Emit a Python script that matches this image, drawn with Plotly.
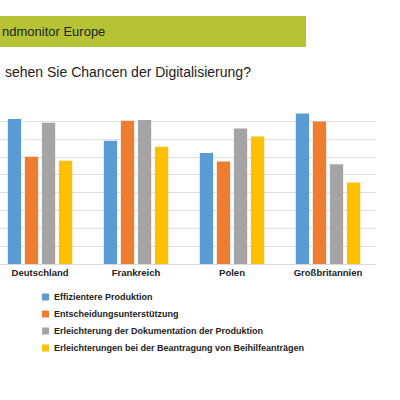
import plotly.graph_objects as go

categories = ["Deutschland", "Frankreich", "Polen", "Großbritannien"]
series_names = ["Effizientere Produktion", "Entscheidungsunterstützung",
                "Erleichterung der Dokumentation der Produktion",
                "Erleichterungen bei der Beantragung von Beihilfeanträgen"]
effizienz = [8.13, 6.91, 6.22, 8.44]
entscheidung = [6.01, 8.03, 5.75, 7.99]
dokumentation = [7.92, 8.07, 7.60, 5.60]
beihilfe = [5.79, 6.57, 7.15, 4.57]
colors = ["#5b9bd5", "#ed7d31", "#a5a5a5", "#ffc000"]

PW, PH, T = 376, 161, 103
def px(x): return x / PW
def py(y): return (T + PH - y) / PH

fig = go.Figure()
for name, vals, c in zip(series_names, [effizienz, entscheidung, dokumentation, beihilfe], colors):
    fig.add_bar(x=categories, y=vals, name=name, marker_color=c, marker_line_width=0)

fig.update_layout(
    width=400, height=400, margin=dict(l=0, r=24, t=T, b=400 - T - PH, pad=0),
    paper_bgcolor="white", plot_bgcolor="white",
    barmode="group", bargap=0.29, bargroupgap=0.22,
    font=dict(family="Liberation Sans, Arial, sans-serif", color="#222"),
    xaxis=dict(range=[-0.417, 3.5], tickfont=dict(size=9.5, weight="bold"), showline=True,
               linecolor="#d9d9d9", ticks="", automargin=False),
    yaxis=dict(range=[0, 9.03], tickvals=list(range(10)), showticklabels=False, gridcolor="#e0e0e0",
               zeroline=False, automargin=False),
    showlegend=False,
)
for i, (name, c) in enumerate(zip(series_names, colors)):
    yc = 297 + 17 * i
    fig.add_shape(type="rect", xref="paper", yref="paper", x0=px(42), x1=px(49),
                  y0=py(yc - 3.5), y1=py(yc + 3.5), fillcolor=c, line_width=0)
    fig.add_annotation(text=name, xref="paper", yref="paper", x=px(52), y=py(yc),
                       xanchor="left", yanchor="middle", showarrow=False,
                       font=dict(size=9, weight="bold", color="#222"))
fig.add_shape(type="rect", xref="paper", yref="paper", x0=px(-5), x1=px(306),
              y0=py(16), y1=py(47), fillcolor="#b5c335", line_width=0)
fig.add_annotation(text="ndmonitor Europe", xref="paper", yref="paper", x=0, y=py(32),
                   xanchor="left", yanchor="middle", showarrow=False, font=dict(size=13, color="#222"))
fig.add_annotation(text="sehen Sie Chancen der Digitalisierung?", xref="paper", yref="paper",
                   x=px(3), y=py(72), xanchor="left", yanchor="middle", showarrow=False,
                   font=dict(size=14, color="#222"))
fig.write_html("out.html", config={"displayModeBar": False},
               post_script="document.body.style.margin='0';")
